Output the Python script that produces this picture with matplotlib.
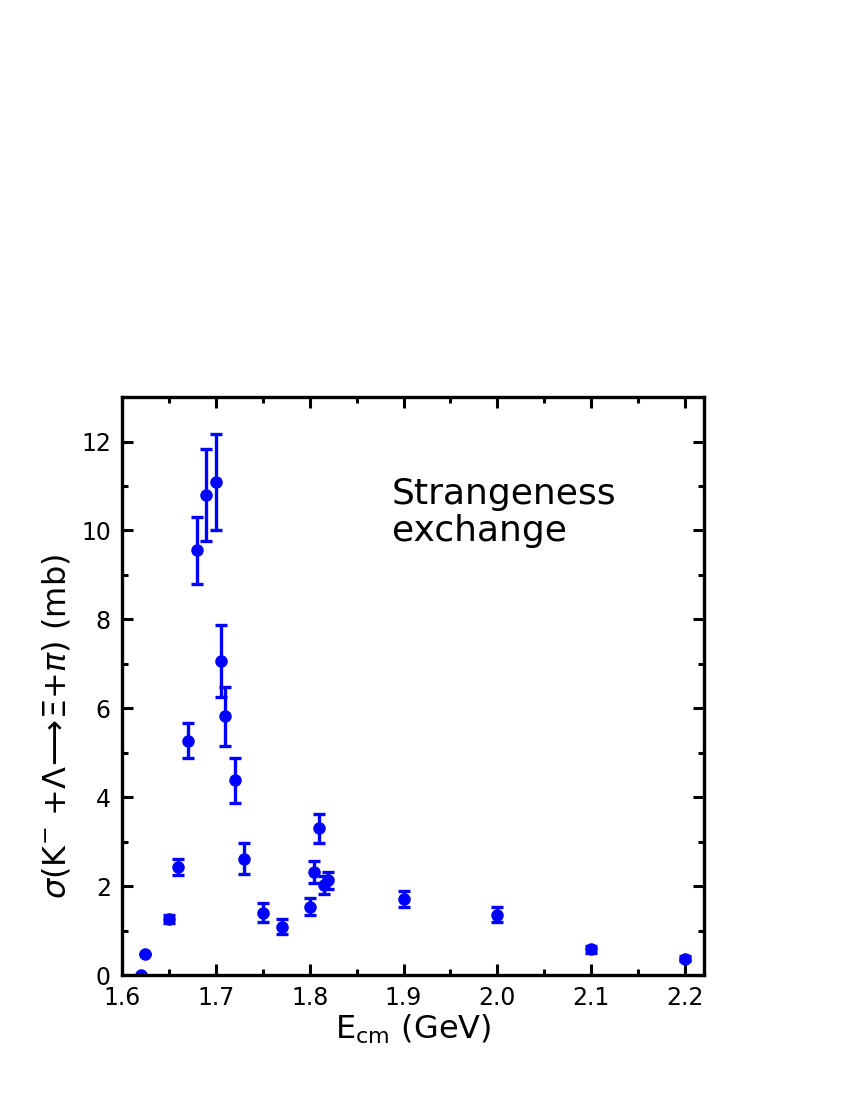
import numpy as np
import matplotlib
matplotlib.use('Agg')
import matplotlib.pyplot as plt
from matplotlib.ticker import MultipleLocator, FormatStrFormatter

# cross section data
ecm = [1.62, 1.625, 1.65, 1.66, 1.67, 1.68, 1.69, 1.70, 1.705, 1.71, 1.72, 1.73,
       1.75, 1.77, 1.80, 1.805, 1.81, 1.815, 1.82, 1.90, 2.00, 2.10, 2.20]
sigma = [0.0, 0.47, 1.26, 2.43, 5.27, 9.55, 10.80, 11.09, 7.07, 5.82, 4.38, 2.62,
         1.40, 1.09, 1.54, 2.31, 3.30, 2.03, 2.13, 1.70, 1.36, 0.58, 0.37]
sigma_err = [0.0, 0.0, 0.08, 0.19, 0.39, 0.75, 1.04, 1.07, 0.81, 0.66, 0.51, 0.34,
             0.21, 0.16, 0.2, 0.25, 0.33, 0.2, 0.19, 0.18, 0.17, 0.08, 0.05]

plt.rcParams['font.family'] = ['DejaVu Sans']
plt.rcParams['mathtext.fontset'] = 'dejavusans'

fig = plt.figure(figsize=(8.5, 11), dpi=100)
ax = fig.add_axes([0.1435, 0.1136, 0.6845, 0.5254])

ax.errorbar(ecm, sigma, yerr=sigma_err, fmt='o', color='#0000ff', ms=8,
            elinewidth=2.4, capsize=4.5, capthick=2.4)

ax.set_xlim(1.6, 2.22)
ax.set_ylim(0, 13)
ax.xaxis.set_major_locator(MultipleLocator(0.1))
ax.xaxis.set_minor_locator(MultipleLocator(0.05))
ax.yaxis.set_major_locator(MultipleLocator(2))
ax.yaxis.set_minor_locator(MultipleLocator(1))
ax.xaxis.set_major_formatter(FormatStrFormatter('%.1f'))
ax.yaxis.set_major_formatter(FormatStrFormatter('%d'))

for s in ax.spines.values():
    s.set_linewidth(2.4)
ax.tick_params(which='both', direction='in', top=True, right=True, width=2.2,
               labelsize=17, pad=8)
ax.tick_params(which='major', length=8)
ax.tick_params(which='minor', length=4)

ax.set_xlabel(r'E$_{\rm cm}$ (GeV)', fontsize=23, labelpad=2)
ax.set_ylabel(r'$\sigma$(K$^{-}$ +$\Lambda\!\longrightarrow\!\Xi$+$\pi$) (mb)', fontsize=23)
ax.yaxis.set_label_coords(-0.085, 0.43)

ax.text(0.464, 0.862, 'Strangeness\nexchange', transform=ax.transAxes,
        ha='left', va='top', fontsize=26, linespacing=1.12)

fig.savefig('out.png', dpi=100)
